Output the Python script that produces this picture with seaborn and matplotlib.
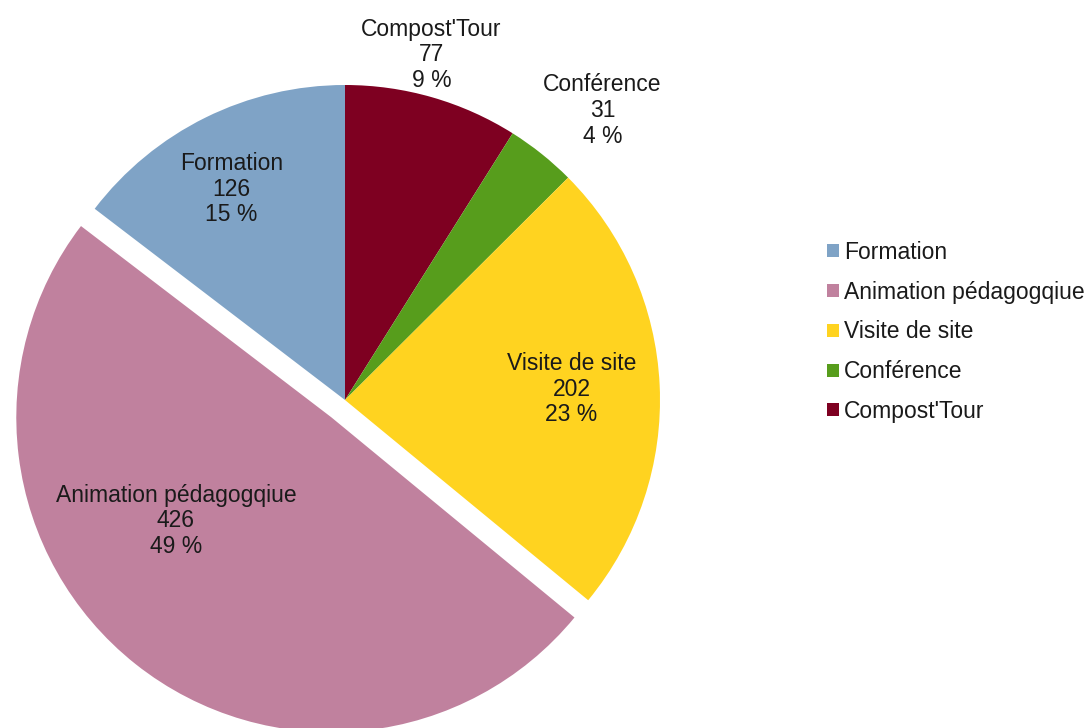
import numpy as np
import seaborn as sns
import matplotlib.pyplot as plt

# data, in clockwise order starting from the top of the pie
categories = ["Compost'Tour", "Conférence", "Visite de site", "Animation pédagogqiue", "Formation"]
values = [77, 31, 202, 426, 126]
colors = ["#7e0021", "#579d1c", "#ffd320", "#c0819e", "#7fa3c6"]
legend_order = ["Formation", "Animation pédagogqiue", "Visite de site", "Conférence", "Compost'Tour"]

sns.set_theme(style="white")
plt.rcParams['font.family'] = ['Liberation Sans', 'DejaVu Sans']

fig = plt.figure(figsize=(10.92, 7.28), dpi=100)
ax = fig.add_axes([0, 0, 1, 1])

explode = [0, 0, 0, 0.07, 0]
wedges, _ = ax.pie(values, colors=sns.color_palette(colors), startangle=90,
                   counterclock=False, explode=explode, radius=1,
                   wedgeprops=dict(linewidth=0))

ax.set_xlim(-345 / 315, (1092 - 345) / 315)
ax.set_ylim(-328 / 315, 400 / 315)
ax.set_aspect('auto')
ax.axis('off')

# label placement: distance from centre and a small angle shift per slice
label_dist = [1.13, 1.23, 0.72, 0.59, 0.76]
angle_shift = [2, -3, 0, -16, 2]
total = sum(values)
for w, cat, v, d, s, e in zip(wedges, categories, values, label_dist, angle_shift, explode):
    mid = np.deg2rad((w.theta1 + w.theta2) / 2 + s)
    x = (d + e) * np.cos(mid)
    y = (d + e) * np.sin(mid)
    pct = round(100 * v / total)
    ax.text(x, y, f"{cat}\n{v}\n{pct} %", ha='center', va='center',
            fontsize=16.5, color='#1a1a1a', linespacing=1.15)

handles = {w_cat: w for w, w_cat in zip(wedges, categories)}
fig.legend([handles[c] for c in legend_order], legend_order,
           loc='center left', bbox_to_anchor=(0.747, 0.544), frameon=False,
           fontsize=16.5, handlelength=0.5, handleheight=0.5,
           handletextpad=0.25, labelspacing=0.73, borderpad=0,
           labelcolor='#1a1a1a')

fig.savefig('out.png', dpi=100)
